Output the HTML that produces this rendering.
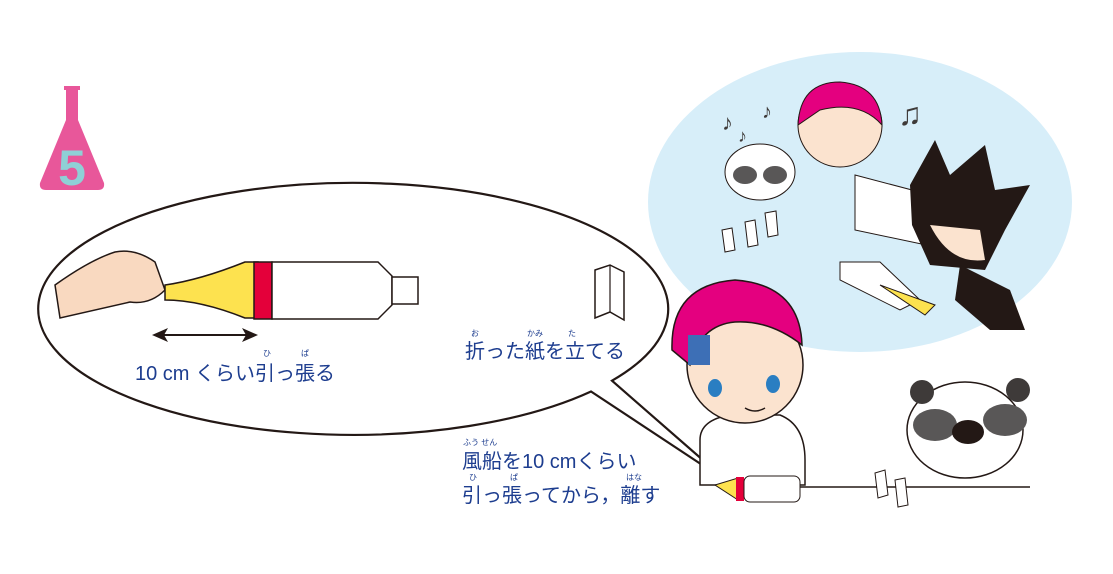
<!DOCTYPE html>
<html><head><meta charset="utf-8"><style>
body{margin:0;background:#fff;width:1113px;height:574px;overflow:hidden}
svg{display:block}
.t{font-family:"Liberation Sans","Noto Sans CJK JP",sans-serif;fill:#1d3d8f}
</style></head><body>
<svg width="1113" height="574" viewBox="0 0 1113 574">
<!-- flask -->
<path d="M64 86 L80 86 L80 90 L78 90 L78 120 L104 183 Q105 190 98 190 L46 190 Q39 190 40 183 L66 120 L66 90 L64 90 Z" fill="#e8579a"/>
<text x="72" y="185" font-family="Liberation Sans,sans-serif" font-weight="bold" font-size="50" fill="#8fd0d6" text-anchor="middle">5</text>
<!-- light blue bubble -->
<ellipse cx="860" cy="202" rx="212" ry="150" fill="#d7eef9"/>
<!-- speech ellipse with tail -->
<path d="M591 391.5 A315 126 0 1 1 612 380.7 L728 482 Z" fill="#fff" stroke="#231815" stroke-width="2.2" stroke-linejoin="miter"/>
<!-- hand & bottle in ellipse -->
<path d="M55 285 Q90 260 115 252 Q135 248 155 262 L165 290 Q150 305 130 302 L60 318 Z" fill="#f9d9c0" stroke="#231815" stroke-width="1.5"/>
<path d="M165 285 Q200 280 245 262 L258 262 L258 318 L245 318 Q200 300 165 300 Z" fill="#fde24f" stroke="#231815" stroke-width="1.5"/>
<rect x="254" y="262" width="18" height="57" fill="#e4003a" stroke="#231815" stroke-width="1.5"/>
<path d="M272 262 L378 262 L392 276 L392 305 L378 319 L272 319 Z" fill="#fff" stroke="#231815" stroke-width="1.5"/>
<rect x="392" y="277" width="26" height="27" fill="#fff" stroke="#231815" stroke-width="1.5"/>
<!-- arrow -->
<line x1="160" y1="335" x2="250" y2="335" stroke="#231815" stroke-width="2"/>
<path d="M152 335 L168 328 L164 335 L168 342 Z M258 335 L242 328 L246 335 L242 342 Z" fill="#231815"/>
<!-- folded paper -->
<path d="M595 270 L610 265 L624 272 L624 320 L610 312 L595 318 Z" fill="#fff" stroke="#231815" stroke-width="1.5"/>
<line x1="610" y1="265" x2="610" y2="312" stroke="#231815" stroke-width="1.2"/>
<!-- texts -->
<text class="t" x="135" y="380" font-size="20">10 cm くらい引っ張る</text>
<text class="t" x="263" y="356" font-size="8">ひ</text><text class="t" x="301" y="356" font-size="8">ぱ</text>
<text class="t" x="465" y="358" font-size="20">折った紙を立てる</text>
<text class="t" x="471" y="336" font-size="8">お</text><text class="t" x="527" y="336" font-size="8">かみ</text><text class="t" x="568" y="336" font-size="8">た</text>
<text class="t" x="462" y="468" font-size="20">風船を10 cmくらい</text>
<text class="t" x="462" y="502" font-size="20">引っ張ってから，離す</text>
<text class="t" x="463" y="445" font-size="8">ふう せん</text>
<text class="t" x="469" y="480" font-size="8">ひ</text><text class="t" x="510" y="480" font-size="8">ぱ</text><text class="t" x="626" y="480" font-size="8">はな</text>
<!-- main girl -->
<path d="M700 440 Q700 420 730 415 L780 415 Q805 425 805 460 L805 485 L700 485 Z" fill="#fff" stroke="#231815" stroke-width="1.5"/>
<circle cx="745" cy="365" r="58" fill="#fbe3cf" stroke="#231815" stroke-width="1.5"/>
<path d="M672 350 Q670 285 735 280 Q800 285 802 345 Q770 320 735 322 Q700 325 690 365 Z" fill="#e4007f" stroke="#231815" stroke-width="1.5"/>
<rect x="688" y="335" width="22" height="30" fill="#3d6fb6"/>
<ellipse cx="715" cy="388" rx="7" ry="9" fill="#2a7ec2"/><ellipse cx="773" cy="384" rx="7" ry="9" fill="#2a7ec2"/>
<path d="M745 408 Q755 414 765 408" fill="none" stroke="#231815" stroke-width="1.5"/>
<!-- small bottle at girl -->
<path d="M715 485 L738 478 L738 500 Z" fill="#fde24f" stroke="#231815"/>
<rect x="736" y="477" width="8" height="24" fill="#e4003a"/>
<rect x="744" y="476" width="56" height="26" rx="6" fill="#fff" stroke="#231815"/>
<line x1="800" y1="487" x2="1030" y2="487" stroke="#231815" stroke-width="1.5"/>
<path d="M875 473 L885 470 L888 495 L878 498 Z M895 480 L905 478 L908 505 L898 507 Z" fill="#fff" stroke="#231815"/>
<!-- panda bottom right -->
<ellipse cx="965" cy="430" rx="58" ry="48" fill="#fff" stroke="#231815" stroke-width="1.5"/>
<circle cx="922" cy="392" r="12" fill="#3e3a39"/><circle cx="1018" cy="390" r="12" fill="#3e3a39"/>
<ellipse cx="935" cy="425" rx="22" ry="16" fill="#595757"/><ellipse cx="1005" cy="420" rx="22" ry="16" fill="#595757"/>
<ellipse cx="968" cy="432" rx="16" ry="12" fill="#231815"/>
<!-- upper scene -->
<circle cx="840" cy="125" r="42" fill="#fbe3cf" stroke="#231815"/>
<path d="M798 125 Q800 82 840 82 Q880 85 882 125 Q860 100 820 110 Z" fill="#e4007f" stroke="#231815"/>
<path d="M855 175 L950 200 L950 250 L855 230 Z" fill="#fff" stroke="#231815"/>
<ellipse cx="760" cy="172" rx="35" ry="28" fill="#fff" stroke="#231815"/>
<ellipse cx="745" cy="175" rx="12" ry="9" fill="#595757"/><ellipse cx="775" cy="175" rx="12" ry="9" fill="#595757"/>
<path d="M910 185 L935 140 L950 175 L985 145 L995 190 L1030 185 L1005 230 L985 270 L930 265 L912 225 Z" fill="#231815"/>
<path d="M930 225 Q950 265 985 260 L980 230 Z" fill="#fbe3cf"/>
<path d="M960 265 L1010 290 L1025 330 L990 330 L955 300 Z" fill="#231815"/>
<path d="M840 262 L880 262 L920 300 L900 310 L840 280 Z" fill="#fff" stroke="#231815"/>
<path d="M880 285 L935 305 L925 315 Z" fill="#fde24f" stroke="#231815"/>
<path d="M722 230 L732 228 L735 250 L725 252 Z M745 222 L755 220 L758 245 L748 247 Z M765 213 L776 211 L778 235 L768 237 Z" fill="#fff" stroke="#231815"/>
<text x="722" y="130" font-size="22" fill="#3e3a39">♪</text><text x="738" y="142" font-size="18" fill="#3e3a39">♪</text>
<text x="762" y="118" font-size="20" fill="#3e3a39">♪</text><text x="898" y="125" font-size="32" fill="#3e3a39">♫</text>
</svg>
</body></html>
